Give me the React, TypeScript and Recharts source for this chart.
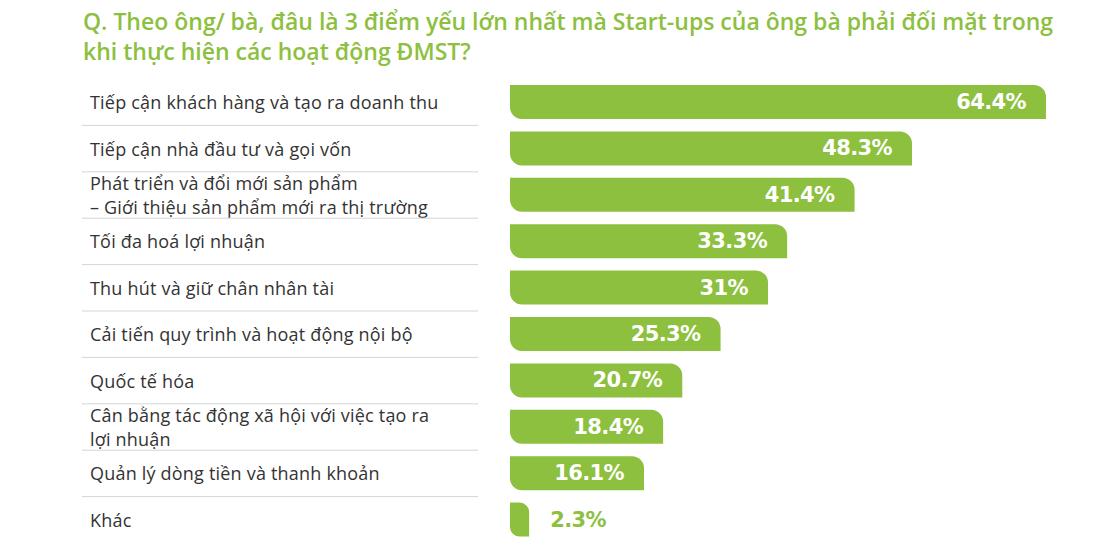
import { BarChart, Bar, XAxis, YAxis, LabelList } from 'recharts';

const categories = [
  'Tiếp cận khách hàng và tạo ra doanh thu',
  'Tiếp cận nhà đầu tư và gọi vốn',
  'Phát triển và đổi mới sản phẩm\n– Giới thiệu sản phẩm mới ra thị trường',
  'Tối đa hoá lợi nhuận',
  'Thu hút và giữ chân nhân tài',
  'Cải tiến quy trình và hoạt động nội bộ',
  'Quốc tế hóa',
  'Cân bằng tác động xã hội với việc tạo ra\nlợi nhuận',
  'Quản lý dòng tiền và thanh khoản',
  'Khác',
];

const values = [64.4, 48.3, 41.4, 33.3, 31, 25.3, 20.7, 18.4, 16.1, 2.3];

const titleLines = [
  'Q. Theo ông/ bà, đâu là 3 điểm yếu lớn nhất mà Start-ups của ông bà phải đối mặt trong',
  'khi thực hiện các hoạt động ĐMST?',
];

const data = categories.map((name, i) => ({ name, value: values[i] }));

const GREEN = '#8cc03e';
const W = 1115;
const H = 559;
const TOP = 79;
const BOTTOM = 16;
const ROW_H = (H - TOP - BOTTOM) / categories.length;

function CategoryTick(props: any) {
  const { y, payload, index } = props;
  const lines = String(payload.value).split('\n');
  const lineH = 24;
  const startY = y - ((lines.length - 1) * lineH) / 2 + 2;
  return (
    <g>
      <text
        x={90}
        y={startY}
        fill="#333"
        fontSize={18}
        letterSpacing={0.2}
        fontFamily="'Open Sans', sans-serif"
        dominantBaseline="middle"
      >
        {lines.map((l, i) => (
          <tspan key={i} x={90} y={startY + i * lineH}>
            {l}
          </tspan>
        ))}
      </text>
      {index < categories.length - 1 && (
        <line x1={82} x2={478} y1={y + ROW_H / 2} y2={y + ROW_H / 2} stroke="#d6d6d6" strokeWidth={1} />
      )}
    </g>
  );
}

function ValueLabel(props: any) {
  const { x, y, width, height, value } = props;
  const inside = width > 60;
  return (
    <text
      x={inside ? x + width - 20 : x + width + 21}
      y={y + height / 2 + 1}
      textAnchor={inside ? 'end' : 'start'}
      dominantBaseline="middle"
      fill={inside ? '#fff' : GREEN}
      fontSize={21}
      fontWeight={700}
      letterSpacing={-0.6}
      fontFamily="'DejaVu Sans', sans-serif"
    >
      {`${value}%`}
    </text>
  );
}

export default function App() {
  return (
    <div style={{ position: 'absolute', left: 0, top: 0, width: W, height: H, background: '#fff' }}>
      <div
        style={{
          position: 'absolute',
          left: 83,
          top: 6,
          color: GREEN,
          fontFamily: "'Open Sans', sans-serif",
          fontWeight: 600,
          fontSize: 23,
          lineHeight: '30px',
          whiteSpace: 'nowrap',
        }}
      >
        {titleLines.map((l, i) => (
          <div key={i}>{l}</div>
        ))}
      </div>
      <BarChart
        width={W}
        height={H}
        data={data}
        layout="vertical"
        margin={{ top: TOP, right: 69, bottom: BOTTOM, left: 0 }}
        style={{ position: 'absolute', left: 0, top: 0 }}
      >
        <XAxis type="number" hide domain={[0, 'dataMax']} />
        <YAxis
          type="category"
          dataKey="name"
          width={510}
          axisLine={false}
          tickLine={false}
          tick={<CategoryTick />}
          interval={0}
        />
        <Bar dataKey="value" fill={GREEN} barSize={34} radius={[0, 12, 0, 12]} isAnimationActive={false}>
          <LabelList dataKey="value" content={<ValueLabel />} />
        </Bar>
      </BarChart>
    </div>
  );
}
